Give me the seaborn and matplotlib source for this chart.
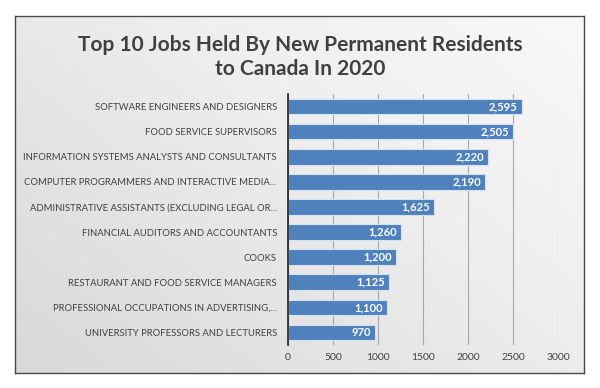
import numpy as np
import pandas as pd
import matplotlib.pyplot as plt
import seaborn as sns

# data
jobs = [
    "SOFTWARE ENGINEERS AND DESIGNERS",
    "FOOD SERVICE SUPERVISORS",
    "INFORMATION SYSTEMS ANALYSTS AND CONSULTANTS",
    "COMPUTER PROGRAMMERS AND INTERACTIVE MEDIA...",
    "ADMINISTRATIVE ASSISTANTS (EXCLUDING LEGAL OR...",
    "FINANCIAL AUDITORS AND ACCOUNTANTS",
    "COOKS",
    "RESTAURANT AND FOOD SERVICE MANAGERS",
    "PROFESSIONAL OCCUPATIONS IN ADVERTISING,...",
    "UNIVERSITY PROFESSORS AND LECTURERS",
]
counts = [2595, 2505, 2220, 2190, 1625, 1260, 1200, 1125, 1100, 970]
x_ticks = [0, 500, 1000, 1500, 2000, 2500, 3000]

df = pd.DataFrame({"job": jobs, "count": counts})

sns.set_theme(style="white")
plt.rcParams["font.family"] = ["Lato", "DejaVu Sans"]

fig = plt.figure(figsize=(6, 3.88), dpi=100)
fig.patch.set_facecolor("white")

# grey gradient panel behind the chart
bg = fig.add_axes([15 / 600, 15 / 388, 569 / 600, 357 / 388], zorder=0)
gx, gy = np.meshgrid(np.linspace(0, 1, 200), np.linspace(0, 1, 200))
grad = 0.55 * gx + 0.45 * (1 - gy)
bg.imshow(grad, cmap="Greys_r", vmin=-3.8, vmax=1.3, aspect="auto",
          extent=[0, 1, 0, 1], origin="upper")
bg.set_xticks([])
bg.set_yticks([])
for s in bg.spines.values():
    s.set_color("#4a4a4a")
    s.set_linewidth(1.0)

ax = fig.add_axes([288 / 600, 43 / 388, 270 / 600, 251 / 388], zorder=1)
ax.patch.set_alpha(0)

sns.barplot(data=df, x="count", y="job", color="#4F81BD", edgecolor="#d5e1f0",
            linewidth=0.8, width=0.62, saturation=1, ax=ax)

for i, v in enumerate(counts):
    ax.text(v - 45, i, f"{v:,}", ha="right", va="center", color="white",
            fontsize=8, fontweight="bold")

ax.set_xlim(0, 3000)
ax.set_xticks(x_ticks)
ax.set_xticklabels([str(t) for t in x_ticks], fontsize=7.5, color="#404040")
ax.tick_params(axis="y", labelsize=6.8, colors="#404040", length=0, pad=8)
ax.tick_params(axis="x", length=0, pad=6)
ax.set_xlabel("")
ax.set_ylabel("")
ax.grid(axis="x", color="#a8a8a8", linewidth=0.8)
ax.set_axisbelow(True)
for name in ["top", "right", "bottom"]:
    ax.spines[name].set_visible(False)
ax.spines["left"].set_color("#202020")
ax.spines["left"].set_linewidth(1.2)

fig.text(0.5, 1 - 57 / 388, "Top 10 Jobs Held By New Permanent Residents\nto Canada In 2020",
         ha="center", va="center", fontsize=15, fontweight="bold", color="#404040",
         linespacing=1.25)

fig.savefig("out.png", dpi=100)
